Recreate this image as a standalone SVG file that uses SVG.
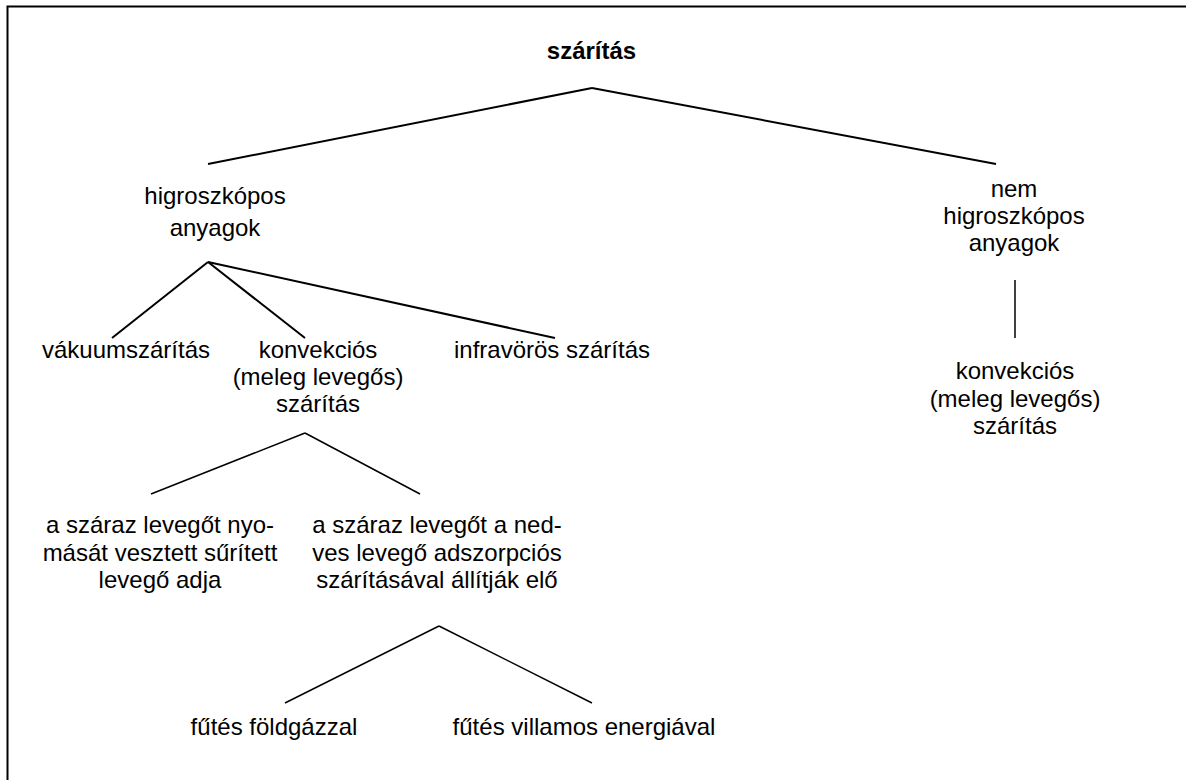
<svg xmlns="http://www.w3.org/2000/svg" width="1186" height="780" viewBox="0 0 1186 780">
<style>
text{font-family:"Liberation Sans",Arial,sans-serif;font-size:24px;fill:#000;text-anchor:middle}
.b{font-weight:bold}
.c line{stroke:#000;stroke-width:2;stroke-linecap:butt}
.c .t{stroke-width:1.5}
</style>
<rect width="1186" height="780" fill="#fff"/>
<g id="frame" fill="none" stroke="#000" stroke-width="2">
<path d="M7.5 780 V6.5 H1186"/>
</g>
<g class="c" id="connectors">
<line x1="592" y1="88" x2="208" y2="164"/>
<line x1="592" y1="88" x2="996" y2="164"/>
<line x1="208" y1="262" x2="112" y2="338"/>
<line x1="208" y1="262" x2="305" y2="338"/>
<line x1="208" y1="262" x2="555" y2="338"/>
<line class="t" x1="305" y1="433" x2="151" y2="494"/>
<line class="t" x1="305" y1="433" x2="420" y2="494"/>
<line class="t" x1="439" y1="626" x2="285" y2="703"/>
<line class="t" x1="439" y1="626" x2="592" y2="703"/>
<line class="t" x1="1015" y1="280" x2="1015" y2="338"/>
</g>
<g id="n-root"><text class="b" x="591.5" y="59">szárítás</text></g>
<g id="n-higro"><text x="215" y="204">higroszkópos</text><text x="215" y="236">anyagok</text></g>
<g id="n-nemhigro"><text x="1014" y="197">nem</text><text x="1014" y="224">higroszkópos</text><text x="1014" y="251">anyagok</text></g>
<g id="n-vakuum"><text x="126" y="358">vákuumszárítás</text></g>
<g id="n-konv"><text x="318" y="358">konvekciós</text><text x="318" y="385">(meleg levegős)</text><text x="318" y="412">szárítás</text></g>
<g id="n-infra"><text x="552" y="358">infravörös szárítás</text></g>
<g id="n-konv2"><text x="1015" y="379">konvekciós</text><text x="1015" y="407">(meleg levegős)</text><text x="1015" y="434">szárítás</text></g>
<g id="n-suritett"><text x="160" y="533">a száraz levegőt nyo-</text><text x="160" y="561">mását vesztett sűrített</text><text x="160" y="588">levegő adja</text></g>
<g id="n-adszorp"><text x="437" y="533">a száraz levegőt a ned-</text><text x="437" y="561">ves levegő adszorpciós</text><text x="437" y="588">szárításával állítják elő</text></g>
<g id="n-foldgaz"><text x="274" y="735">fűtés földgázzal</text></g>
<g id="n-villamos"><text x="584" y="735">fűtés villamos energiával</text></g>
</svg>
